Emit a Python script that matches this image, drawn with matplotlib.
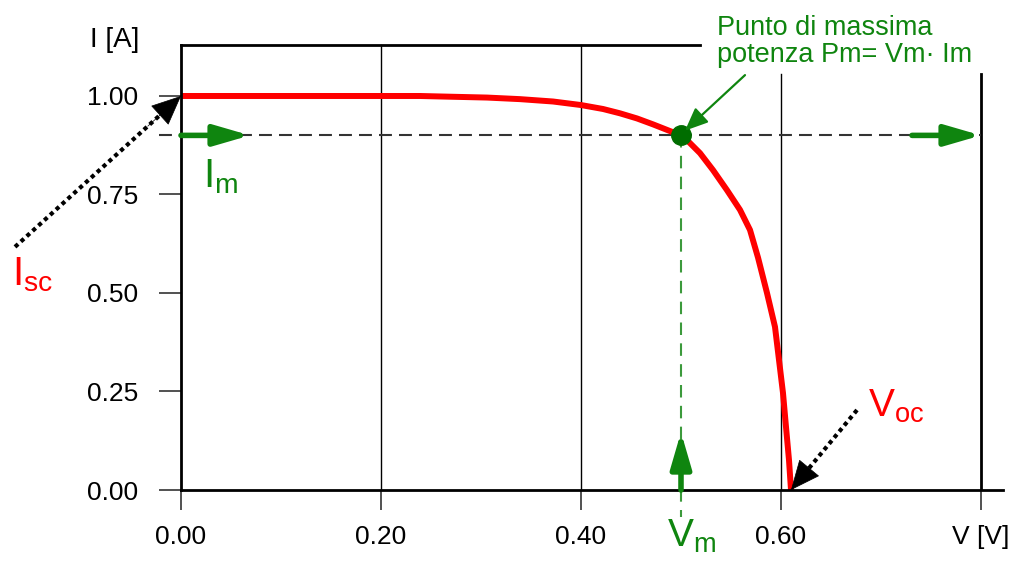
import matplotlib
matplotlib.use("Agg")
import matplotlib.pyplot as plt

plt.rcParams['font.family'] = ['Liberation Sans', 'DejaVu Sans']

# ---- data ----
voltage = [0.0, 0.10, 0.20, 0.239, 0.272, 0.306, 0.339, 0.372, 0.400, 0.422, 0.439,
           0.456, 0.472, 0.489, 0.500, 0.506, 0.519, 0.532, 0.546, 0.559, 0.569,
           0.577, 0.586, 0.594, 0.598, 0.602, 0.605, 0.608, 0.610]
current = [1.0, 1.0, 1.0, 1.000, 0.998, 0.996, 0.992, 0.986, 0.977, 0.967, 0.956,
           0.943, 0.928, 0.911, 0.900, 0.888, 0.855, 0.812, 0.761, 0.711, 0.660,
           0.590, 0.500, 0.414, 0.330, 0.246, 0.160, 0.076, 0.0]
Vm, Im = 0.50, 0.90
Voc, Isc = 0.61, 1.00
x_ticks = [0.0, 0.2, 0.4, 0.6, 0.8]
x_tick_labels = ['0.00', '0.20', '0.40', '0.60', 'V [V]']
y_ticks = [0.0, 0.25, 0.5, 0.75, 1.0]
y_tick_labels = ['0.00', '0.25', '0.50', '0.75', '1.00']

GREEN = '#0f850f'
DGREEN = '#006d00'
RED = '#ff0000'

fig = plt.figure(figsize=(10.13, 5.61), dpi=100)
ax = fig.add_axes([181/1013, 71/561, (1003-181)/1013, (490-45)/561])
XMAX, YMAX = 0.822, 1.1294
ax.set_xlim(0, XMAX)
ax.set_ylim(0, YMAX)

for s in ['top', 'right']:
    ax.spines[s].set_visible(False)
for s in ['left', 'bottom']:
    ax.spines[s].set_linewidth(2)
    ax.spines[s].set_zorder(5)

ax.set_xticks(x_ticks)
ax.set_xticklabels(x_tick_labels)
ax.set_yticks(y_ticks)
ax.set_yticklabels(y_tick_labels)
ax.tick_params(axis='y', length=16, width=1.2, pad=15, labelsize=19, color='#333333')
ax.tick_params(axis='x', length=14.5, width=1.2, pad=11, labelsize=19, color='#333333')

# frame / grid
for x in x_ticks[1:3]:
    ax.plot([x, x], [0, YMAX], color='black', lw=1, zorder=1, clip_on=False)
ax.plot([0.6, 0.6], [0, 1.056], color='black', lw=1, zorder=1)
ax.plot([0.8, 0.8], [0, 1.056], color='black', lw=2, zorder=1)
ax.plot([0, 0.519], [YMAX, YMAX], color='black', lw=2, zorder=1, clip_on=False)

# dashed guide lines
ax.plot([-0.022, 0.8], [Im, Im], color='#333333', lw=1.5, dashes=(6.2, 3.4),
        zorder=2, clip_on=False)
ax.plot([Vm, Vm], [Im, -0.069], color='#3c9a3c', lw=1.5, dashes=(6, 4),
        zorder=2, clip_on=False)

# I-V curve
ax.plot(voltage, current, color=RED, lw=4.3, solid_capstyle='butt',
        solid_joinstyle='round', zorder=3)

# maximum power point
ax.plot([Vm], [Im], 'o', color=DGREEN, markersize=14, zorder=4)

# green thick arrows
def garrow(xy, xytext):
    ax.annotate('', xy=xy, xytext=xytext,
                arrowprops=dict(arrowstyle='-|>,head_length=0.86,head_width=0.25',
                                mutation_scale=25, lw=4, color=GREEN,
                                shrinkA=0, shrinkB=0),
                zorder=6, annotation_clip=False)

garrow((0.069, Im), (0.0, Im))
garrow((0.8, Im), (0.731, Im))
garrow((Vm, 0.147), (Vm, 0.0))

# annotation arrow for max power point
ax.annotate('', xy=(0.504, 0.912), xytext=(0.564, 1.053),
            arrowprops=dict(arrowstyle='-|>,head_length=0.7,head_width=0.3',
                            mutation_scale=20, lw=1.6, color=GREEN,
                            shrinkA=0, shrinkB=0),
            zorder=6, annotation_clip=False)
ax.text(0.536, 1.205, 'Punto di massima\npotenza Pm= Vm· Im', color=GREEN,
        fontsize=19.5, ha='left', va='top', linespacing=1.05, clip_on=False)

# dotted black arrows
def dotted_arrow(start, end):
    x0, y0 = start
    x1, y1 = end
    ax.plot([x0, x0 + (x1 - x0) * 0.9], [y0, y0 + (y1 - y0) * 0.9], color='black',
            lw=3, dashes=(1, 0.9), dash_capstyle='butt', zorder=6, clip_on=False)
    ax.annotate('', xy=end, xytext=(x0 + (x1 - x0) * 0.8, y0 + (y1 - y0) * 0.8),
                arrowprops=dict(arrowstyle='-|>,head_length=0.9,head_width=0.4',
                                mutation_scale=22, lw=0.5, color='black',
                                shrinkA=0, shrinkB=0),
                zorder=6, annotation_clip=False)

dotted_arrow((-0.166, 0.617), (0.0, Isc))
dotted_arrow((0.676, 0.203), (Voc, 0.0))

# labels
ax.text(-0.042, 1.142, 'I [A]', fontsize=20, ha='right', va='center', clip_on=False)
ax.text(-0.169, 0.520, r'$\mathregular{I_{sc}}$', color=RED, fontsize=29,
        ha='left', va='baseline', clip_on=False)
ax.text(0.022, 0.769, r'$\mathregular{I_{m}}$', color=GREEN, fontsize=29,
        ha='left', va='baseline', clip_on=False)
ax.text(0.486, -0.145, r'$\mathregular{V_{m}}$', color=GREEN, fontsize=28,
        ha='left', va='baseline', clip_on=False)
ax.text(0.687, 0.185, r'$\mathregular{V_{oc}}$', color=RED, fontsize=28,
        ha='left', va='baseline', clip_on=False)

fig.savefig('out.png', dpi=100)
